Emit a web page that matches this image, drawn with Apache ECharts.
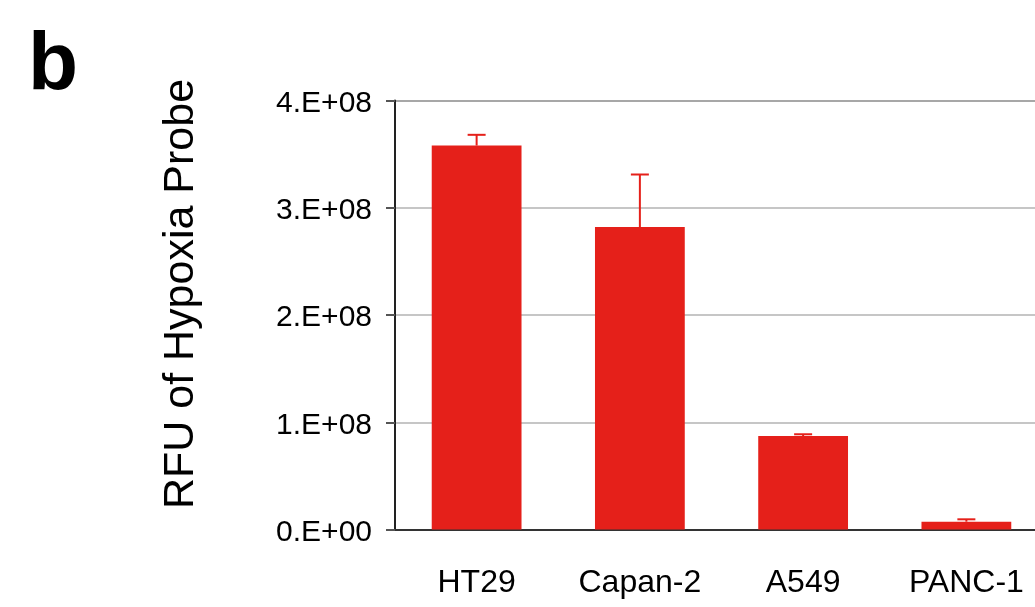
<!DOCTYPE html>
<html>
<head>
<meta charset="utf-8">
<script src="https://cdn.jsdelivr.net/npm/echarts@6/dist/echarts.min.js"></script>
<style>html,body{margin:0;padding:0;background:#fff;overflow:hidden;width:1035px;height:607px;}#c{width:1048px;height:607px;}</style>
</head>
<body>
<div id="c"></div>
<script>
const categories = ['HT29', 'Capan-2', 'A549', 'PANC-1'];
const means = [3.58e8, 2.82e8, 0.872e8, 0.073e8];
const errors = [0.10e8, 0.49e8, 0.016e8, 0.022e8];
const yTickLabels = { 0: '0.E+00', 100000000: '1.E+08', 200000000: '2.E+08', 300000000: '3.E+08', 400000000: '4.E+08' };
const yTitle = 'RFU of Hypoxia Probe';
const panelLabel = 'b';

const RED = '#e5201a';
const FONT = 'Liberation Sans, Arial, sans-serif';

const chart = echarts.init(document.getElementById('c'), null, { renderer: 'canvas' });
chart.setOption({
  animation: false,
  backgroundColor: '#fff',
  title: {
    text: panelLabel, left: 23, top: 20,
    textStyle: { fontFamily: FONT, fontWeight: 'bold', fontSize: 82, color: '#000' }
  },
  graphic: [
    {
      type: 'text',
      x: 181, y: 294,
      rotation: Math.PI / 2,
      style: {
        text: yTitle,
        fontFamily: FONT, fontSize: 43, fill: '#000',
        align: 'center', verticalAlign: 'middle'
      }
    }
  ],
  grid: { left: 395, top: 100.5, bottom: 77.5, right: 0, show: false },
  xAxis: {
    type: 'category',
    data: categories,
    axisLine: { show: true, lineStyle: { color: '#333', width: 2 } },
    axisTick: { show: false },
    axisLabel: { interval: 0, hideOverlap: false, fontFamily: FONT, fontSize: 32, color: '#000', margin: 38 }
  },
  yAxis: {
    type: 'value',
    min: 0, max: 4e8, interval: 1e8,
    axisLine: { show: true, lineStyle: { color: '#222', width: 2 } },
    axisTick: { show: true, length: 9, lineStyle: { color: '#555', width: 2 } },
    axisLabel: {
      fontFamily: FONT, fontSize: 30, color: '#000', margin: 23,
      verticalAlign: 'top', lineHeight: 6,
      formatter: v => yTickLabels[v] !== undefined ? yTickLabels[v] : ''
    },
    splitLine: {
      show: true,
      lineStyle: { color: ['#b3b3b3', '#b3b3b3', '#b3b3b3', '#b3b3b3', '#8a8a8a'], width: 1.5 }
    }
  },
  series: [
    {
      type: 'bar',
      data: means,
      barWidth: '55%',
      itemStyle: { color: RED },
      z: 2
    },
    {
      type: 'custom',
      data: means.map((m, i) => [i, m, m + errors[i]]),
      z: 3,
      renderItem: function (params, api) {
        const base = api.coord([api.value(0), api.value(1)]);
        const top = api.coord([api.value(0), api.value(2)]);
        const x = base[0];
        const half = 9;
        return {
          type: 'group',
          children: [
            { type: 'line', shape: { x1: x, y1: base[1], x2: x, y2: top[1] }, style: { stroke: RED, lineWidth: 2 } },
            { type: 'line', shape: { x1: x - half, y1: top[1], x2: x + half, y2: top[1] }, style: { stroke: RED, lineWidth: 2 } }
          ]
        };
      }
    }
  ]
});
</script>
</body>
</html>
